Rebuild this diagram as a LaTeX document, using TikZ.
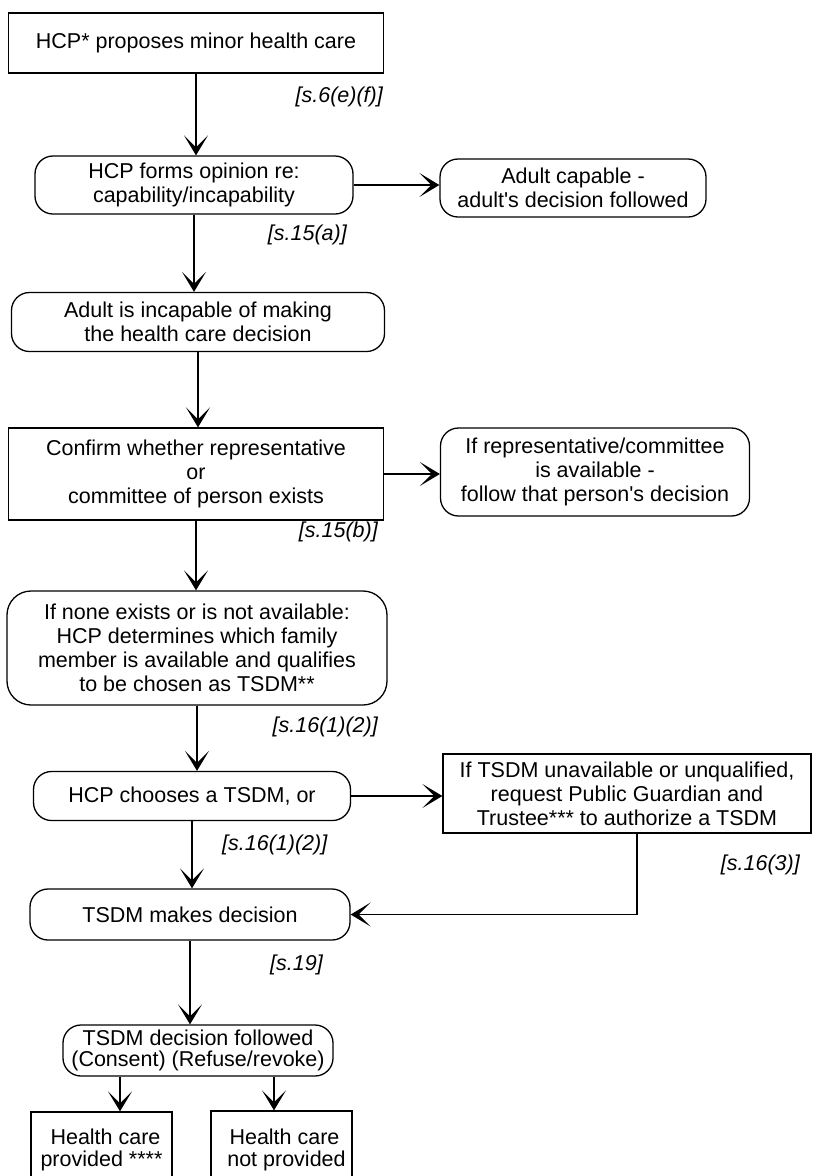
\documentclass[tikz,border=0pt]{standalone}
\usepackage{fontspec}
\setmainfont{Liberation Sans}
\usetikzlibrary{arrows.meta}
\newcommand\flowfont{\fontsize{21.5}{24}\selectfont}
\tikzset{
	plainbox/.style={draw,line width=1.3pt,align=center,inner sep=0pt,font=\flowfont},
	roundbox/.style={plainbox,rounded corners=18pt},
	sect/.style={font=\flowfont\itshape,inner sep=0pt},
	flow/.style={line width=1.3pt,-{Stealth[length=20pt,width=24pt,inset=12pt]}}
}

\begin{document}
\begin{tikzpicture}[x=1pt,y=-1pt]
				\useasboundingbox (0,0) rectangle (812,1176);
				\clip (0,0) rectangle (812,1176);
				\node[plainbox,minimum width=375pt,minimum height=60pt] (propose) at (196,43) {HCP* proposes minor health care};
				\node[roundbox,minimum width=318pt,minimum height=58pt] (opinion) at (194,185) {HCP forms opinion re:\\capability/incapability};
				\node[roundbox,minimum width=266pt,minimum height=58pt] (capable) at (573,188) {Adult capable -\\adult\textquotesingle s decision followed};
				\node[roundbox,minimum width=373pt,minimum height=59pt] (incapable) at (198,322) {Adult is incapable of making\\the health care decision};
				\node[plainbox,minimum width=375pt,minimum height=92pt] (confirm) at (196,474) {Confirm whether representative\\or\\committee of person exists};
				\node[roundbox,minimum width=309pt,minimum height=88pt] (available) at (595,472) {If representative/committee\\is available -\\follow that person\textquotesingle s decision};
				\node[roundbox,rounded corners=24pt,minimum width=380pt,minimum height=114pt] (none) at (197,648) {If none exists or is not available:\\HCP determines which family\\member is available and qualifies\\to be chosen as TSDM**};
				\node[roundbox,minimum width=317pt,minimum height=49pt] (chooses) at (192,796) {HCP chooses a TSDM, or};
				\node[plainbox,minimum width=368pt,minimum height=79pt] (pgt) at (627,793.5) {If TSDM unavailable or unqualified,\\request Public Guardian and\\Trustee*** to authorize a TSDM};
				\node[roundbox,minimum width=320pt,minimum height=51pt] (decides) at (190,914.5) {TSDM makes decision};
				\node[roundbox,minimum width=270pt,minimum height=51pt] (followed) at (198,1050.5) {TSDM decision followed\\[-3pt](Consent) (Refuse/revoke)};
				\node[plainbox,minimum width=141pt,minimum height=76pt] (provided) at (101.5,1150) {\hspace*{8pt}Health care\\[-2pt]provided ****};
				\node[plainbox,minimum width=141pt,minimum height=78pt] (notprov) at (281.5,1150) {\hspace*{6pt}Health care\\[-2pt]\hspace*{10pt}not provided};

				\draw[flow] (propose.south) -- (propose.south |- opinion.north);
				\draw[flow] (opinion.east) -- (opinion.east -| capable.west);
				\draw[flow] (opinion.south) -- (opinion.south |- incapable.north);
				\draw[flow] (incapable.south) -- (incapable.south |- confirm.north);
				\draw[flow] (confirm.east) -- (confirm.east -| available.west);
				\draw[flow] (confirm.south) -- (confirm.south |- none.north);
				\draw[flow] (none.south) -- (none.south |- chooses.north);
				\draw[flow] (chooses.east) -- (chooses.east -| pgt.west);
				\draw[flow] (chooses.south) -- (chooses.south |- decides.north);
				\coordinate (turn) at (637,914.5);
				\draw[flow] (turn |- pgt.south) -- (turn) -- (decides.east);
				\draw[flow] (decides.south) -- (decides.south |- followed.north);
				\draw[flow] ([xshift=18.5pt]provided.north |- followed.south) -- ([xshift=18.5pt]provided.north);
				\draw[flow] ([xshift=-7.5pt]notprov.north |- followed.south) -- ([xshift=-7.5pt]notprov.north);

				\node[sect,anchor=east] (ref1) at (383,97) {[s.6(e)(f)]};
				\node[sect,anchor=east] (ref2) at (347,235) {[s.15(a)]};
				\node[sect,anchor=east] (ref3) at (378,532) {[s.15(b)]};
				\node[sect,anchor=east] (ref4) at (378,727) {[s.16(1)(2)]};
				\node[sect,anchor=west] (ref5) at (222,845) {[s.16(1)(2)]};
				\node[sect,anchor=east] (ref6) at (800,865) {[s.16(3)]};
				\node[sect,anchor=east] (ref7) at (323,965) {[s.19]};
			\end{tikzpicture}
\end{document}
